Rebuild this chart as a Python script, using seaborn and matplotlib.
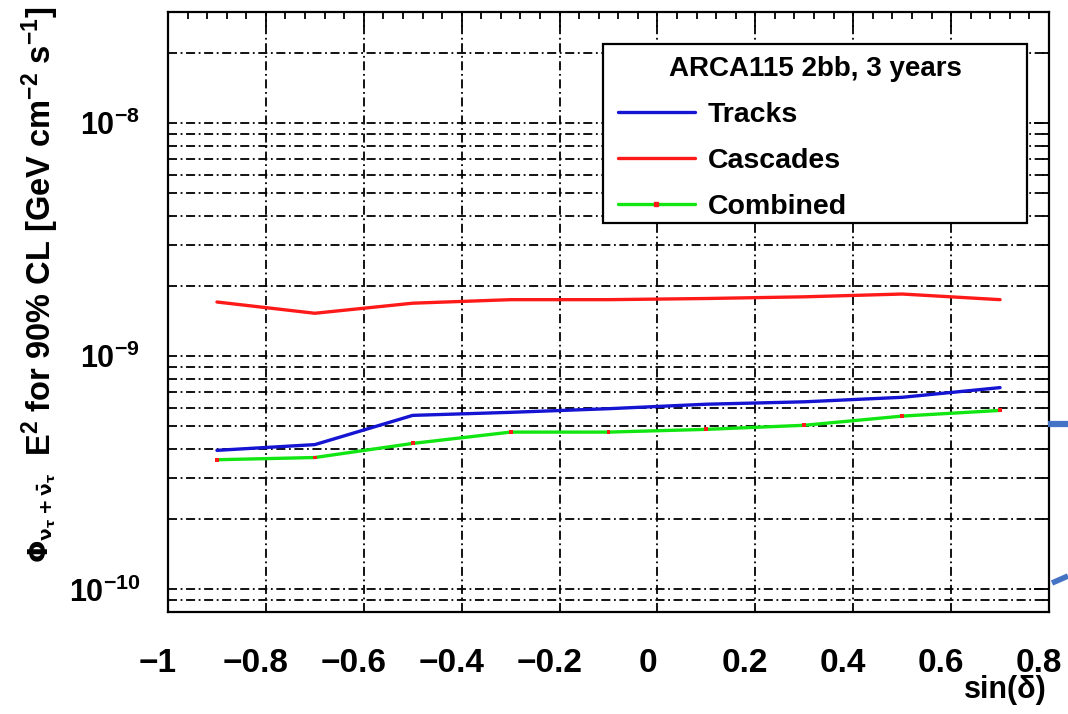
import matplotlib
matplotlib.use("Agg")
import numpy as np
import pandas as pd
import seaborn as sns
import matplotlib.pyplot as plt
from matplotlib import font_manager
from matplotlib.lines import Line2D
from matplotlib.patches import Rectangle
from matplotlib.ticker import LogLocator, MultipleLocator, FixedLocator, FixedFormatter, NullFormatter
from matplotlib.transforms import ScaledTranslation

# ---- data -------------------------------------------------------------
sin_dec = [-0.9, -0.7, -0.5, -0.3, -0.1, 0.1, 0.3, 0.5, 0.7]
tracks = [3.95e-10, 4.18e-10, 5.58e-10, 5.75e-10, 5.96e-10, 6.23e-10, 6.38e-10, 6.67e-10, 7.34e-10]
cascades = [1.71e-9, 1.53e-9, 1.69e-9, 1.75e-9, 1.75e-9, 1.77e-9, 1.80e-9, 1.85e-9, 1.75e-9]
combined = [3.60e-10, 3.68e-10, 4.23e-10, 4.73e-10, 4.73e-10, 4.86e-10, 5.06e-10, 5.54e-10, 5.86e-10]
samples = ["Tracks", "Cascades", "Combined"]
legend_title = "ARCA115 2bb, 3 years"

x_ticks = [-1.0, -0.8, -0.6, -0.4, -0.2, 0.0, 0.2, 0.4, 0.6, 0.8]
x_tick_labels = ["\u22121", "\u22120.8", "\u22120.6", "\u22120.4", "\u22120.2", "0", "0.2", "0.4", "0.6", "0.8"]
y_ticks = [1e-10, 1e-9, 1e-8]
y_tick_labels = [r"$10^{-10}$", r"$10^{-9}$", r"$10^{-8}$"]
x_title = "sin(\u03b4)"
y_title_flux = r"$\Phi_{\nu_{\tau}+\bar{\nu}_{\tau}}$"
y_title_main = r"E$^{2}$ for 90% CL [GeV cm$^{-2}$ s$^{-1}$]"

colors = {"Tracks": "#1414d2", "Cascades": "#ff1a1a", "Combined": "#12e612"}


def has_font(name):
    try:
        font_manager.findfont(font_manager.FontProperties(family=name), fallback_to_default=False)
        return True
    except Exception:
        return False


sns.set_theme(style="white")
base_font = "Liberation Sans" if has_font("Liberation Sans") else "DejaVu Sans"
narrow_font = "Liberation Sans Narrow" if has_font("Liberation Sans Narrow") else base_font
plt.rcParams["font.family"] = [base_font, "DejaVu Sans"]
plt.rcParams["font.weight"] = "bold"
plt.rcParams["text.color"] = "black"
plt.rcParams["xtick.color"] = "black"
plt.rcParams["ytick.color"] = "black"
plt.rcParams["axes.labelcolor"] = "black"
plt.rcParams["mathtext.fontset"] = "custom"
plt.rcParams["mathtext.rm"] = f"{base_font}:bold"
plt.rcParams["mathtext.it"] = f"{base_font}:bold"
plt.rcParams["mathtext.bf"] = f"{base_font}:bold"
plt.rcParams["mathtext.default"] = "rm"

df = pd.DataFrame({
    "sin_dec": sin_dec * 3,
    "limit": tracks + cascades + combined,
    "sample": [s for s in samples for _ in sin_dec],
})

W, H = 1068, 714
fig = plt.figure(figsize=(W / 100, H / 100), dpi=100)
ax = fig.add_axes([168 / W, 1 - 612 / H, (1049 - 168) / W, (612 - 12) / H])

sns.lineplot(data=df, x="sin_dec", y="limit", hue="sample", palette=colors,
             estimator=None, sort=False, linewidth=2.4, legend=False, ax=ax, zorder=3)
sns.scatterplot(x=sin_dec, y=combined, marker="s", s=8, color="#ff1a1a",
                edgecolor="none", legend=False, ax=ax, zorder=4)

ax.set_yscale("log")
ax.set_xlim(-1.0, 0.8)
ax.set_ylim(8e-11, 3e-8)

# axis ticks
ax.xaxis.set_major_locator(FixedLocator(x_ticks))
ax.xaxis.set_major_formatter(FixedFormatter(x_tick_labels))
ax.xaxis.set_minor_locator(MultipleLocator(0.04))
ax.yaxis.set_major_locator(FixedLocator(y_ticks))
ax.yaxis.set_major_formatter(FixedFormatter(y_tick_labels))
ax.yaxis.set_minor_locator(LogLocator(base=10, subs=np.arange(2, 10), numticks=20))
ax.yaxis.set_minor_formatter(NullFormatter())

ax.tick_params(which="both", direction="in", top=True, right=True, color="black",
               labelcolor="black", width=1.3)
ax.tick_params(which="major", length=11)
ax.tick_params(which="minor", length=5)
ax.tick_params(axis="x", which="major", pad=26, labelsize=24)
ax.tick_params(axis="y", which="major", pad=20, labelsize=22)
for lab in ax.get_xticklabels():
    lab.set_fontfamily([narrow_font, base_font, "DejaVu Sans"])
    lab.set_fontweight("bold")
    lab.set_transform(lab.get_transform() + ScaledTranslation(-0.10, 0, fig.dpi_scale_trans))
for lab in ax.get_yticklabels():
    lab.set_fontweight("bold")

# dash-dot grid
grid_style = dict(color="black", linewidth=1.3, linestyle=(0, (5, 2, 1, 2)))
ax.grid(True, axis="x", which="major", **grid_style)
ax.grid(True, axis="y", which="both", **grid_style)
ax.set_axisbelow(False)
for sp in ax.spines.values():
    sp.set_color("black")
    sp.set_linewidth(1.6)

ax.set_xlabel("")
ax.set_ylabel("")
fig.text(1047 / W, 1 - 690 / H, x_title, ha="right", va="center", fontsize=22,
         fontweight="bold", color="black", fontfamily=[narrow_font, base_font, "DejaVu Sans"])
fig.text(40 / W, 1 - 231 / H, y_title_main, rotation=90, ha="center", va="center",
         fontsize=23.5, fontweight="bold", color="black")
fig.text(42 / W, 1 - 518 / H, y_title_flux, rotation=90, ha="center", va="center",
         fontsize=19, fontweight="normal", color="black", math_fontfamily="dejavusans")

# legend: white box with black border, entries laid out by ax.legend on top of it
box = Rectangle((603 / W, 1 - 223 / H), 424 / W, 179 / H, transform=fig.transFigure,
                facecolor="white", edgecolor="black", linewidth=1.6, zorder=4.8)
ax.add_patch(box)
box.set_clip_on(False)

handles = [
    Line2D([], [], color=colors["Tracks"], lw=2.4),
    Line2D([], [], color=colors["Cascades"], lw=2.4),
    Line2D([], [], color=colors["Combined"], lw=2.4, marker="s", markersize=2.8,
           markerfacecolor="#ff1a1a", markeredgecolor="#ff1a1a"),
]
leg = ax.legend(handles, samples, title=legend_title, loc="upper left",
                bbox_to_anchor=(608 / W, 1 - (46.5 + 179) / H, 414 / W, 179 / H),
                bbox_transform=fig.transFigure, mode="expand", borderaxespad=0,
                frameon=False, numpoints=1, labelcolor="black",
                prop={"weight": "bold", "size": 20.5},
                title_fontproperties={"weight": "bold", "size": 20},
                handlelength=2.7, handletextpad=0.45, labelspacing=0.70, borderpad=0.35)
leg.get_title().set_color("black")
leg.set_zorder(5)

# bracket marks at the right edge
fig.add_artist(Line2D([1048 / W, 1.0], [1 - 424 / H, 1 - 424 / H], transform=fig.transFigure,
                      color="#4472c4", lw=4.5, solid_capstyle="butt"))
fig.add_artist(Line2D([1052 / W, 1.0], [1 - 583 / H, 1 - 576 / H], transform=fig.transFigure,
                      color="#4472c4", lw=4.0, solid_capstyle="butt"))

fig.savefig("out.png", dpi=100, facecolor="white")
